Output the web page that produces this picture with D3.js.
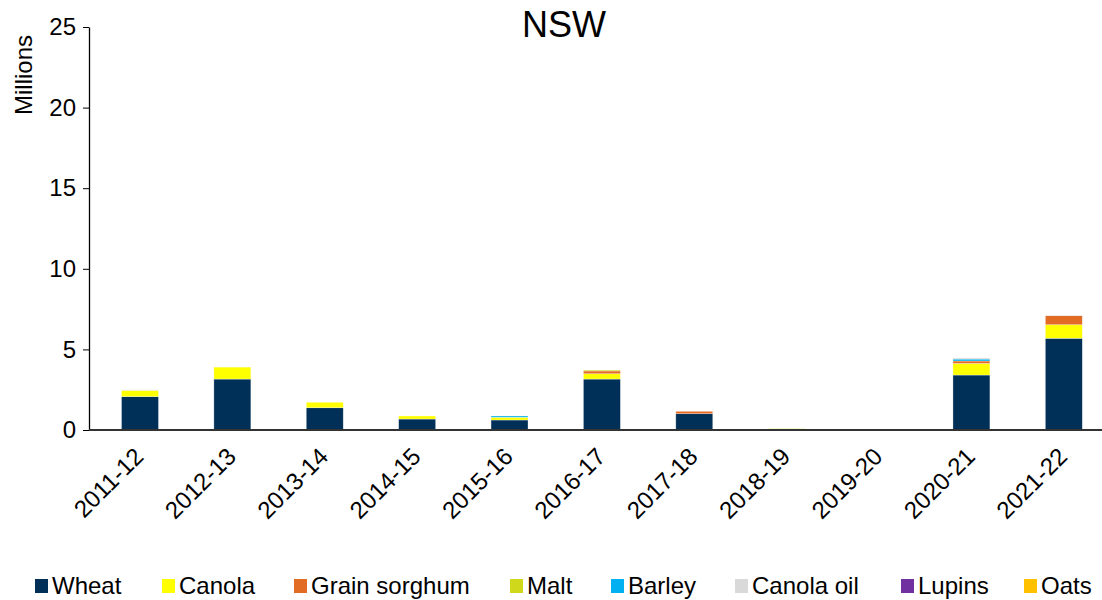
<!DOCTYPE html>
<html><head><meta charset="utf-8">
<script src="https://cdn.jsdelivr.net/npm/d3@7"></script>
<style>body{margin:0;background:#fff;} svg{font-family:Arial,"Liberation Sans",sans-serif;}</style>
</head><body><svg id="c" width="1102" height="600"></svg>
<script>
const years = ["2011-12","2012-13","2013-14","2014-15","2015-16","2016-17","2017-18","2018-19","2019-20","2020-21","2021-22"];
const seriesNames = ["Wheat","Canola","Grain sorghum","Malt","Barley","Canola oil","Lupins","Oats"];
const seriesColors = ["#003057","#FFFF00","#E36C24","#CFD81B","#00B0F0","#D9D9D9","#7030A0","#FFC000"];
const wheat = [2.07,3.16,1.38,0.68,0.62,3.16,1.01,0,0,3.41,5.69];
const canola = [0.39,0.74,0.34,0.19,0.17,0.33,0,0,0,0.72,0.84];
const grainSorghum = [0,0,0,0,0,0.17,0.15,0,0,0.15,0.56];
const malt = [0,0,0,0,0,0.06,0,0.08,0.04,0,0];
const barley = [0,0,0,0,0.08,0,0,0,0,0.12,0];
const canolaOil = [0.04,0,0,0,0,0,0,0,0,0.07,0.04];
const lupins = [0,0,0,0,0,0,0,0,0,0,0];
const oats = [0,0,0,0,0,0,0,0,0,0,0];
const yTicks = [0,5,10,15,20,25];

const seriesValues = [wheat,canola,grainSorghum,malt,barley,canolaOil,lupins,oats];
const rows = years.map((y,i)=>{const r={year:y}; seriesNames.forEach((s,j)=>r[s]=seriesValues[j][i]); return r;});
const stack = d3.stack().keys(seriesNames)(rows);

const svg = d3.select("#c");
const x = d3.scaleBand().domain(years).range([93.8,1110]).paddingInner(0.6).paddingOuter(0.3);
const y = d3.scaleLinear().domain([0,25]).range([430,27]);

svg.append("text").attr("x",564).attr("y",37).attr("text-anchor","middle").attr("font-size",36).text("NSW");
svg.append("text").attr("transform","translate(32,35) rotate(-90)").attr("text-anchor","end").attr("font-size",24).text("Millions");

const ya = svg.append("g").attr("transform","translate(89,0)").call(d3.axisLeft(y).tickValues(yTicks).tickSize(6).tickSizeOuter(0));
ya.select(".domain").attr("stroke","#000").attr("stroke-width",1.3);
ya.selectAll(".tick line").attr("stroke","#000");
ya.selectAll(".tick text").attr("font-size",24).attr("font-family","Arial,'Liberation Sans',sans-serif").attr("fill","#000").attr("x",-13);

svg.append("g").selectAll("g").data(stack).join("g").attr("fill",(d,i)=>seriesColors[i])
  .selectAll("rect").data(d=>d).join("rect")
  .attr("x",d=>x(d.data.year)).attr("width",x.bandwidth())
  .attr("y",d=>y(d[1])).attr("height",d=>Math.max(0,y(d[0])-y(d[1])))
  .attr("stroke","#fff").attr("stroke-opacity",0.5).attr("stroke-width",0.6);

const xa = svg.append("g").attr("transform","translate(0,430)").call(d3.axisBottom(x).tickSize(0).tickSizeOuter(0));
xa.select(".domain").attr("d","M89,0H1102").attr("stroke","#333").attr("stroke-width",2);
xa.selectAll(".tick text").attr("font-size",24).attr("font-family","Arial,'Liberation Sans',sans-serif").attr("fill","#000")
  .attr("text-anchor","end").attr("dy","0.35em").attr("transform","translate(-1,22) rotate(-45)").attr("x",0).attr("y",0);

const legendX = [35,162,294,510,611,735,901,1024];
const lg = svg.append("g");
seriesNames.forEach((s,i)=>{
  lg.append("rect").attr("x",legendX[i]).attr("y",579).attr("width",13).attr("height",14).attr("fill",seriesColors[i]);
  lg.append("text").attr("x",legendX[i]+17).attr("y",594).attr("font-size",24).text(s);
});
</script></body></html>
